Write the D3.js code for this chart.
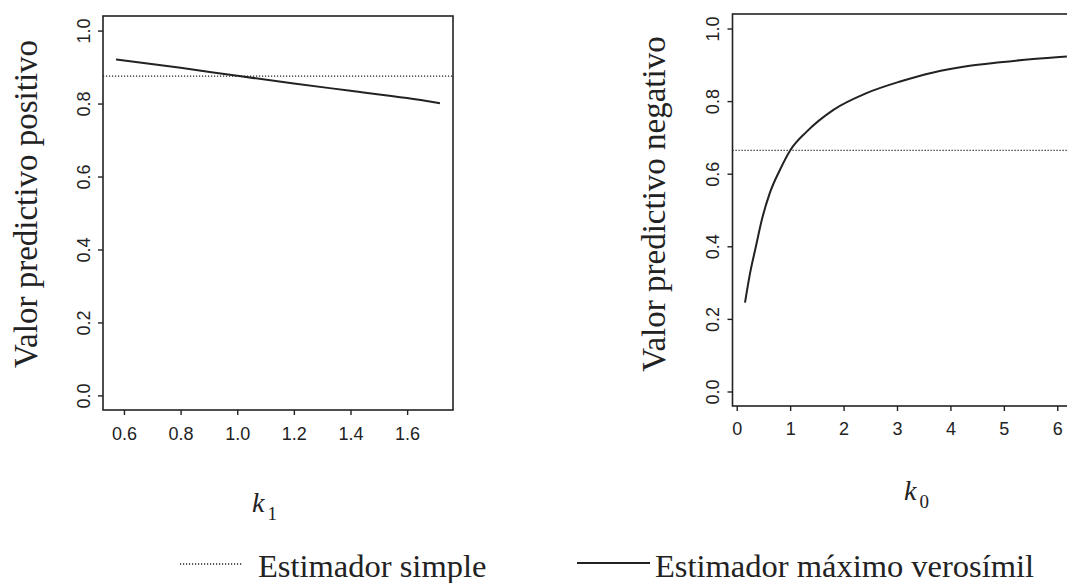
<!DOCTYPE html>
<html>
<head>
<meta charset="utf-8">
<script src="https://cdn.jsdelivr.net/npm/d3@7"></script>
<style>
  html, body { margin: 0; padding: 0; background: #fff; }
  svg { display: block; }
  .tick text { font-family: "Liberation Sans", Arial, sans-serif; font-size: 18px; fill: #222; }
  .tick line { stroke: #222; stroke-width: 1.4; }
  .ylab { font-family: "Liberation Serif", "Times New Roman", serif; font-size: 33px; fill: #222; }
  .xlab { font-family: "Liberation Serif", "Times New Roman", serif; fill: #222; }
  .leg { font-family: "Liberation Serif", "Times New Roman", serif; font-size: 32.5px; fill: #222; }
</style>
</head>
<body>
<svg id="chart" width="1067" height="583"></svg>
<script>
// Positive predictive value against k1
const k1 = [0.572, 0.8, 1.0, 1.2, 1.4, 1.6, 1.716];
const vppMV = [0.921, 0.898, 0.876, 0.855, 0.835, 0.815, 0.801];
const vppSimple = 0.875;

// Negative predictive value against k0
const k0 = [0.155, 0.25, 0.36, 0.47, 0.62, 0.81, 1.0, 1.31, 1.81, 2.43, 3.06, 3.68, 4.30, 4.93, 5.55, 6.18];
const vpnMV = [0.245, 0.326, 0.400, 0.473, 0.547, 0.611, 0.664, 0.716, 0.776, 0.822, 0.854, 0.879, 0.896, 0.907, 0.916, 0.923];
const vpnSimple = 0.664;

const k1Ticks = [0.6, 0.8, 1.0, 1.2, 1.4, 1.6];
const k0Ticks = [0, 1, 2, 3, 4, 5, 6];
const yTicks = [0, 0.2, 0.4, 0.6, 0.8, 1.0];

const legendLabels = ["Estimador simple", "Estimador máximo verosímil"];

const svg = d3.select("#chart");
svg.append("rect").attr("width", 1067).attr("height", 583).attr("fill", "#fff");

const ink = "#222";

function panel(opts) {
  const { box, xDomain, xTicks, xFmt, xs, ys, hLine, yTitle, yTitleX, labelBaseline } = opts;
  const g = svg.append("g");
  const x = d3.scaleLinear().domain(xDomain).range([box.left, box.right]);
  const y = d3.scaleLinear().domain([-0.04, 1.04]).range([box.bottom, box.top]);

  // y axis with rotated labels
  const ya = g.append("g").attr("transform", `translate(${box.left},0)`)
    .call(d3.axisLeft(y).tickValues(yTicks).tickSize(5).tickFormat(d3.format(".1f")));
  ya.select(".domain").remove();
  ya.selectAll(".tick text")
    .attr("x", null).attr("dy", null)
    .attr("text-anchor", "middle")
    .attr("transform", `translate(${-labelBaseline.y},0) rotate(-90)`);

  // x axis
  const xa = g.append("g").attr("transform", `translate(0,${box.bottom})`)
    .call(d3.axisBottom(x).tickValues(xTicks).tickSize(5).tickFormat(xFmt));
  xa.select(".domain").remove();
  xa.selectAll(".tick text").attr("y", labelBaseline.x).attr("dy", null);

  // reference line for the simple estimator
  g.append("line")
    .attr("x1", box.left).attr("x2", box.right)
    .attr("y1", y(hLine)).attr("y2", y(hLine))
    .attr("stroke", ink).attr("stroke-width", 1.3)
    .attr("stroke-dasharray", "1.2,1.8");

  // maximum likelihood estimator curve
  const pts = xs.map((v, i) => [v, ys[i]]);
  g.append("path")
    .datum(pts)
    .attr("fill", "none").attr("stroke", ink).attr("stroke-width", 2)
    .attr("d", d3.line().x(d => x(d[0])).y(d => y(d[1])).curve(d3.curveMonotoneX));

  // plot frame
  g.append("rect")
    .attr("x", box.left).attr("y", box.top)
    .attr("width", box.right - box.left).attr("height", box.bottom - box.top)
    .attr("fill", "none").attr("stroke", ink).attr("stroke-width", 1.6);

  // y title
  g.append("text").attr("class", "ylab")
    .attr("text-anchor", "middle")
    .attr("transform", `translate(${yTitleX},204) rotate(-90)`)
    .text(yTitle);
  return x;
}

panel({
  box: { left: 103, right: 453, top: 16, bottom: 410 },
  xDomain: [0.526, 1.762],
  xTicks: k1Ticks, xFmt: d3.format(".1f"),
  xs: k1, ys: vppMV, hLine: vppSimple,
  yTitle: "Valor predictivo positivo", yTitleX: 37,
  labelBaseline: { x: 30, y: 13 }
});

panel({
  box: { left: 732.5, right: 1090, top: 14, bottom: 406 },
  xDomain: [-0.079, (1090 - 736.7) / 53.43],
  xTicks: k0Ticks, xFmt: d3.format("d"),
  xs: k0, ys: vpnMV, hLine: vpnSimple,
  yTitle: "Valor predictivo negativo", yTitleX: 665,
  labelBaseline: { x: 29, y: 14 }
});

// x titles with subscripts
function kLabel(xk, yk, sub) {
  const t = svg.append("text").attr("class", "xlab").attr("x", xk).attr("y", yk);
  t.append("tspan").attr("font-style", "italic").attr("font-size", 28).text("k");
  t.append("tspan").attr("font-size", 19).attr("dx", 3).attr("dy", 8).text(sub);
}
kLabel(252, 512, "1");
kLabel(904, 500, "0");

// legend
svg.append("line").attr("x1", 180).attr("x2", 243).attr("y1", 564).attr("y2", 564)
  .attr("stroke", ink).attr("stroke-width", 1.3).attr("stroke-dasharray", "1.2,1.8");
svg.append("text").attr("class", "leg").attr("x", 258).attr("y", 577).text(legendLabels[0]);
svg.append("line").attr("x1", 577).attr("x2", 650).attr("y1", 563).attr("y2", 563)
  .attr("stroke", ink).attr("stroke-width", 2);
svg.append("text").attr("class", "leg").attr("x", 655).attr("y", 577).text(legendLabels[1]);
</script>
</body>
</html>
